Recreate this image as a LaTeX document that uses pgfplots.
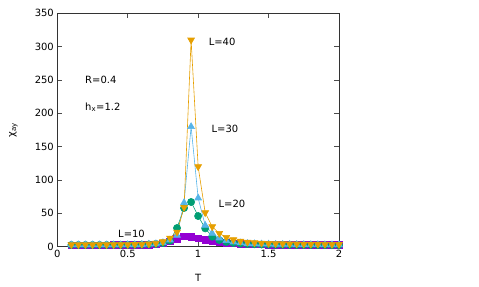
\documentclass[border=0pt]{standalone}
\usepackage{fontspec}
\setmainfont{DejaVu Sans}
\usepackage{pgfplots}
\pgfplotsset{compat=1.18}
\usepackage{pgfplotstable}
\definecolor{cA}{HTML}{9400D3}
\definecolor{cB}{HTML}{009E73}
\definecolor{cC}{HTML}{56B4E9}
\definecolor{cD}{HTML}{E69F00}
\pgfplotstableread{
T L10 L20 L30 L40
0.10 2.4 2.6 2.8 3.0
0.15 2.4 2.6 2.8 3.0
0.20 2.4 2.6 2.8 3.0
0.25 2.4 2.6 2.8 3.0
0.30 2.4 2.6 2.8 3.0
0.35 2.4 2.6 2.8 3.0
0.40 2.5 2.7 2.9 3.1
0.45 2.5 2.7 2.9 3.1
0.50 2.6 2.8 3.0 3.2
0.55 2.7 2.9 3.1 3.4
0.60 2.9 3.1 3.3 3.7
0.65 3.2 3.5 3.7 4.2
0.70 3.8 4.2 4.4 5.2
0.75 5.0 5.5 6.0 7.5
0.80 8.0 9.0 10.0 13.0
0.85 12.0 28.0 17.0 22.0
0.90 15.5 58.0 66.0 59.0
0.95 14.5 67.0 180.0 310.0
1.00 12.5 46.0 73.0 120.0
1.05 10.5 27.5 32.0 51.0
1.10 8.5 15.0 20.0 30.0
1.15 7.0 10.0 13.0 20.0
1.20 5.8 7.0 9.0 14.0
1.25 5.0 5.5 7.0 10.5
1.30 4.4 4.6 5.6 8.5
1.35 4.0 4.0 4.8 7.0
1.40 3.7 3.6 4.3 6.0
1.45 3.5 3.3 4.0 5.5
1.50 3.3 3.1 3.8 5.0
1.55 3.1 2.9 3.6 4.7
1.60 3.0 2.8 3.5 4.5
1.65 2.9 2.7 3.4 4.3
1.70 2.8 2.6 3.3 4.1
1.75 2.7 2.5 3.2 4.0
1.80 2.7 2.5 3.1 3.9
1.85 2.6 2.4 3.0 3.8
1.90 2.6 2.4 3.0 3.7
1.95 2.5 2.3 2.9 3.6
2.00 2.5 2.3 2.9 3.5
}\datatable
\begin{document}
\begin{tikzpicture}
\path[use as bounding box] (-57.3bp,-40.3bp) rectangle (421.7bp,246.7bp);
\begin{axis}[
  at={(0,0)}, anchor=south west,
  scale only axis, width=281.7bp, height=233.4bp,
  xmin=0, xmax=2, ymin=0, ymax=350,
  xtick={0,0.5,1,1.5,2}, ytick={0,50,...,350},
  xticklabels={0,0.5,1,1.5,2},
  tick align=inside, major tick length=5bp,
  tick style={black!70, line width=0.6bp},
  axis line style={black!80, line width=0.8bp},
  every tick label/.style={font=\fontsize{10}{12}\selectfont},
  /pgf/number format/assume math mode=true,
  xlabel={T}, ylabel={χ\textsubscript{ay}},
  label style={font=\fontsize{10}{12}\selectfont},
  xlabel style={at={(axis description cs:0.5,-0.133)}, anchor=center},
  ylabel style={at={(axis description cs:-0.156,0.5)}, anchor=center},
  clip=false,
]
\addplot[cA, line width=0.6bp, mark=square*, mark size=3.3bp, mark options={fill=cA, draw=cA}] table[x=T,y=L10] {\datatable};
\addplot[cB, line width=0.6bp, mark=*, mark size=3.6bp, mark options={fill=cB, draw=cB}] table[x=T,y=L20] {\datatable};
\addplot[cC, line width=0.6bp, mark=triangle*, mark size=3.9bp, mark options={fill=cC, draw=cC}] table[x=T,y=L30] {\datatable};
\addplot[cD, line width=0.6bp, mark=triangle*, mark size=3.9bp, mark options={fill=cD, draw=cD, rotate=180}] table[x=T,y=L40] {\datatable};
\node[font=\fontsize{10}{12}\selectfont] at (axis cs:1.17,307) {L=40};
\node[font=\fontsize{10}{12}\selectfont] at (axis cs:1.19,176) {L=30};
\node[font=\fontsize{10}{12}\selectfont] at (axis cs:1.24,64) {L=20};
\node[font=\fontsize{10}{12}\selectfont] at (axis cs:0.527,19) {L=10};
\node[font=\fontsize{10}{12}\selectfont, anchor=west, inner sep=0pt] at (axis cs:0.197,250) {R=0.4};
\node[font=\fontsize{10}{12}\selectfont, anchor=west, inner sep=0pt] at (axis cs:0.197,209) {h\textsubscript{x}=1.2};
\end{axis}
\end{tikzpicture}
\end{document}
